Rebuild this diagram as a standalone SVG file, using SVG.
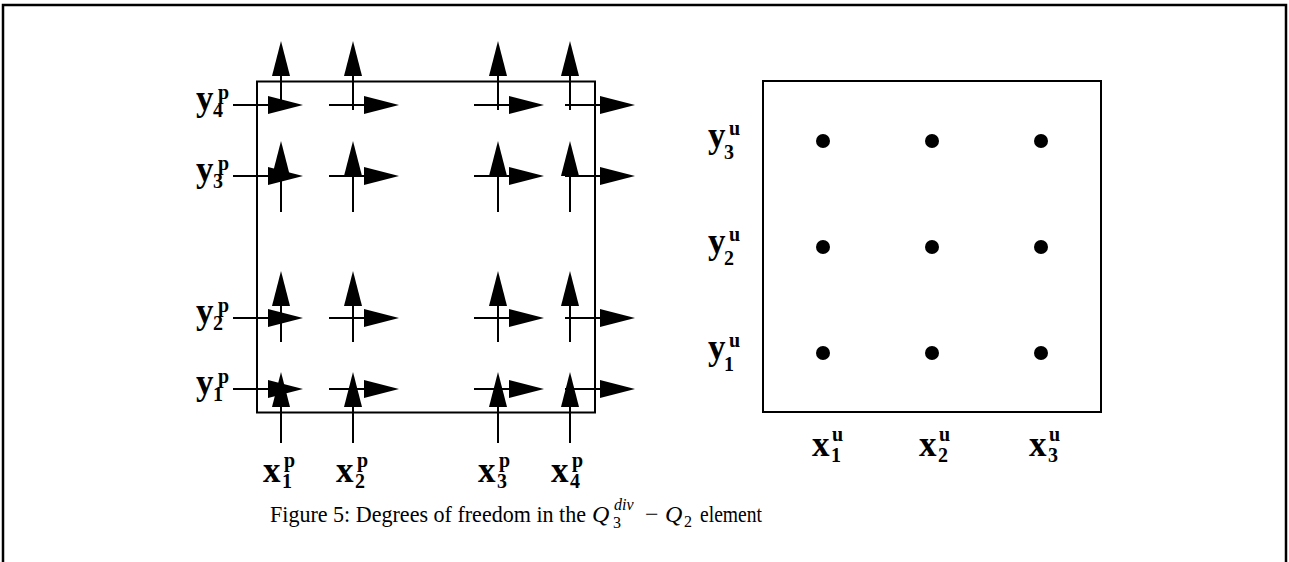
<svg xmlns="http://www.w3.org/2000/svg" width="1289" height="562" viewBox="0 0 1289 562">
<style>
.frame{fill:none;stroke:#000;stroke-width:2.5}
.box{fill:none;stroke:#000;stroke-width:2}
.ar{fill:none;stroke:#000;stroke-width:2;marker-end:url(#ah)}
.dot{fill:#000}
.lb{font-family:"Liberation Serif",serif;font-weight:bold;font-size:35px;fill:#000}
.ls{font-family:"Liberation Serif",serif;font-weight:bold;font-size:20px;fill:#000}
.cap{font-family:"Liberation Serif",serif;font-size:24px;fill:#000}
.capi{font-family:"Liberation Serif",serif;font-style:italic;font-size:24px;fill:#000}
.capsi{font-family:"Liberation Serif",serif;font-style:italic;font-size:16px;fill:#000}
.caps{font-family:"Liberation Serif",serif;font-size:16px;fill:#000}
</style>
<defs>
<marker id="ah" markerUnits="userSpaceOnUse" markerWidth="35" markerHeight="18" viewBox="0 0 35 18" refX="0" refY="9" orient="auto">
<path d="M0,0 L35,9 L0,18 Z" fill="#000"/>
</marker>
</defs>
<path class="frame" d="M3,562 V5 H1286 V562"/>
<g id="pressure-element">
<rect class="box" x="257" y="81.5" width="338" height="331"/>
</g>
<g id="velocity-element">
<rect class="box" x="763" y="81" width="338" height="331"/>
</g>
<g id="connectors">
<path class="ar" d="M233,105 H268"/><path class="ar" d="M329,105 H364"/><path class="ar" d="M474,105 H509"/><path class="ar" d="M565,105 H600"/>
<path class="ar" d="M233,176 H268"/><path class="ar" d="M329,176 H364"/><path class="ar" d="M474,176 H509"/><path class="ar" d="M565,176 H600"/>
<path class="ar" d="M233,318 H268"/><path class="ar" d="M329,318 H364"/><path class="ar" d="M474,318 H509"/><path class="ar" d="M565,318 H600"/>
<path class="ar" d="M233,389 H268"/><path class="ar" d="M329,389 H364"/><path class="ar" d="M474,389 H509"/><path class="ar" d="M565,389 H600"/>
<path class="ar" d="M281,110 V76"/><path class="ar" d="M353,110 V76"/><path class="ar" d="M498,110 V76"/><path class="ar" d="M570,110 V76"/>
<path class="ar" d="M281,212 V176"/><path class="ar" d="M353,212 V176"/><path class="ar" d="M498,212 V176"/><path class="ar" d="M570,212 V176"/>
<path class="ar" d="M281,342 V306"/><path class="ar" d="M353,342 V306"/><path class="ar" d="M498,342 V306"/><path class="ar" d="M570,342 V306"/>
<path class="ar" d="M281,443 V407"/><path class="ar" d="M353,443 V407"/><path class="ar" d="M498,443 V407"/><path class="ar" d="M570,443 V407"/>
</g>
<g id="velocity-nodes">
<circle class="dot" cx="823" cy="141" r="7"/><circle class="dot" cx="932" cy="141" r="7"/><circle class="dot" cx="1041" cy="141" r="7"/>
<circle class="dot" cx="823" cy="247" r="7"/><circle class="dot" cx="932" cy="247" r="7"/><circle class="dot" cx="1041" cy="247" r="7"/>
<circle class="dot" cx="823" cy="353" r="7"/><circle class="dot" cx="932" cy="353" r="7"/><circle class="dot" cx="1041" cy="353" r="7"/>
</g>
<g id="labels-yp">
<text class="lb" x="196" y="110">y</text><text class="ls" x="213" y="117">4</text><text class="ls" x="218" y="99">p</text>
<text class="lb" x="196" y="181">y</text><text class="ls" x="213" y="188">3</text><text class="ls" x="218" y="170">p</text>
<text class="lb" x="196" y="323">y</text><text class="ls" x="213" y="330">2</text><text class="ls" x="218" y="312">p</text>
<text class="lb" x="196" y="394">y</text><text class="ls" x="213" y="401">1</text><text class="ls" x="218" y="383">p</text>
</g>
<g id="labels-xp">
<text class="lb" x="263" y="482">x</text><text class="ls" x="282" y="488">1</text><text class="ls" x="284" y="467">p</text>
<text class="lb" x="336" y="482">x</text><text class="ls" x="355" y="488">2</text><text class="ls" x="357" y="467">p</text>
<text class="lb" x="478" y="482">x</text><text class="ls" x="497" y="488">3</text><text class="ls" x="499" y="467">p</text>
<text class="lb" x="551" y="482">x</text><text class="ls" x="570" y="488">4</text><text class="ls" x="572" y="467">p</text>
</g>
<g id="labels-yu">
<text class="lb" x="708" y="147">y</text><text class="ls" x="724" y="159">3</text><text class="ls" x="729" y="135">u</text>
<text class="lb" x="708" y="253">y</text><text class="ls" x="724" y="265">2</text><text class="ls" x="729" y="241">u</text>
<text class="lb" x="708" y="359">y</text><text class="ls" x="724" y="371">1</text><text class="ls" x="729" y="347">u</text>
</g>
<g id="labels-xu">
<text class="lb" x="812" y="456">x</text><text class="ls" x="831" y="462">1</text><text class="ls" x="832" y="441">u</text>
<text class="lb" x="919" y="456">x</text><text class="ls" x="938" y="462">2</text><text class="ls" x="939" y="441">u</text>
<text class="lb" x="1029" y="456">x</text><text class="ls" x="1048" y="462">3</text><text class="ls" x="1049" y="441">u</text>
</g>
<g id="caption">
<text class="cap" x="270" y="522" textLength="316" lengthAdjust="spacingAndGlyphs">Figure 5: Degrees of freedom in the</text>
<text class="capi" x="592" y="522">Q</text>
<text class="capsi" x="614" y="510">div</text>
<text class="caps" x="613" y="528">3</text>
<text class="cap" x="645" y="522">−</text>
<text class="capi" x="665" y="522">Q</text>
<text class="caps" x="684" y="527">2</text>
<text class="cap" x="700" y="522" textLength="62" lengthAdjust="spacingAndGlyphs">element</text>
</g>
</svg>
